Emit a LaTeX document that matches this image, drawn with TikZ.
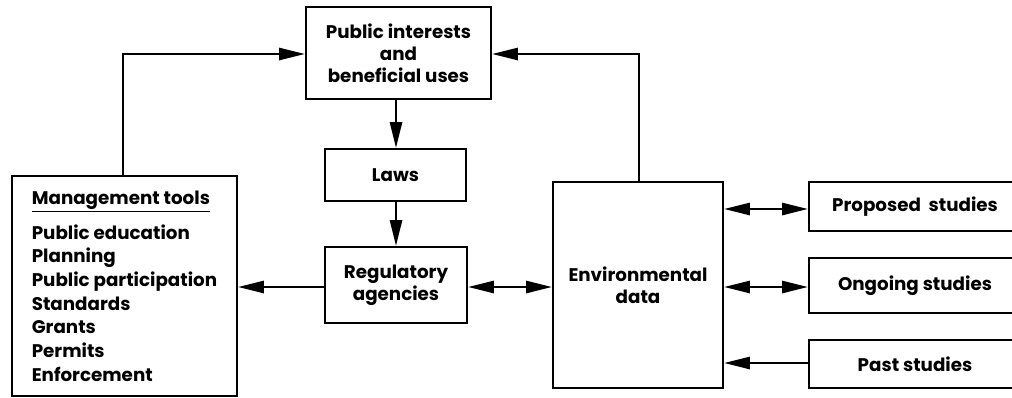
\documentclass[tikz,border=0pt]{standalone}
\usepackage{fontspec}
\setmainfont{Poppins}
\usepackage{tikz}
\usetikzlibrary{arrows.meta,positioning}

\begin{document}
\begin{tikzpicture}[
    x=0.025cm,y=-0.025cm,
    box/.style={draw,line width=1.3pt,align=center,inner sep=0pt,
      font=\fontsize{13}{15.6}\selectfont\bfseries},
    arr/.style={-{Triangle[length=6.5mm,width=3mm]},line width=2pt},
    darr/.style={{Triangle[length=6.5mm,width=3mm]}-{Triangle[length=6.5mm,width=3mm]},line width=2pt}
  ]
    \useasboundingbox (0,0) rectangle (1012,397);
    \node[box,minimum width=4.625cm,minimum height=2.3cm] (public) at (398.5,53)
      {Public interests\\and\\beneficial uses};
    \node[box,minimum width=3.525cm,minimum height=1.3cm] (laws) at (395.5,175) {Laws};
    \node[box,minimum width=3.55cm,minimum height=1.9cm] (reg) at (396,285)
      {Regulatory\\agencies};
    \node[box,minimum width=5.625cm,minimum height=5.5cm,align=left,
      font=\fontsize{13}{16.8}\selectfont\bfseries] (tools) at (124.5,286)
      {\underline{Management tools}\\[8pt]
       Public education\\Planning\\Public participation\\Standards\\Grants\\Permits\\Enforcement};
    \node[box,minimum width=4.25cm,minimum height=5.15cm] (env) at (638,285)
      {Environmental\\data};
    \node[box,minimum width=5.3cm,minimum height=1.225cm] (proposed) at (915,206.5)
      {Proposed\ \ studies};
    \node[box,minimum width=5.3cm,minimum height=1.375cm] (ongoing) at (915,285.5)
      {Ongoing studies};
    \node[box,minimum width=5.3cm,minimum height=1.2cm] (past) at (915,364)
      {Past studies};
    % feedback loops to the top box
    \coordinate (lt) at (123,54);
    \coordinate (rt) at (639,54);
    \coordinate (mid) at (396,0);
    \draw[arr] (tools.north -| lt) -- (lt) -- (public.west |- lt);
    \draw[arr] (env.north -| rt) -- (rt) -- (public.east |- rt);
    \draw[arr] (public.south -| mid) -- (laws.north -| mid);
    \draw[arr] (laws.south -| mid) -- (reg.north -| mid);
    \draw[arr] (reg.west |- 0,287) -- (tools.east |- 0,287);
    \draw[darr] (reg.east |- 0,287) -- (env.west |- 0,287);
    \draw[darr] (env.east |- 0,209) -- (proposed.west |- 0,209);
    \draw[darr] (env.east |- 0,287) -- (ongoing.west |- 0,287);
    \draw[arr] (past.west |- 0,363) -- (env.east |- 0,363);
\end{tikzpicture}
\end{document}
